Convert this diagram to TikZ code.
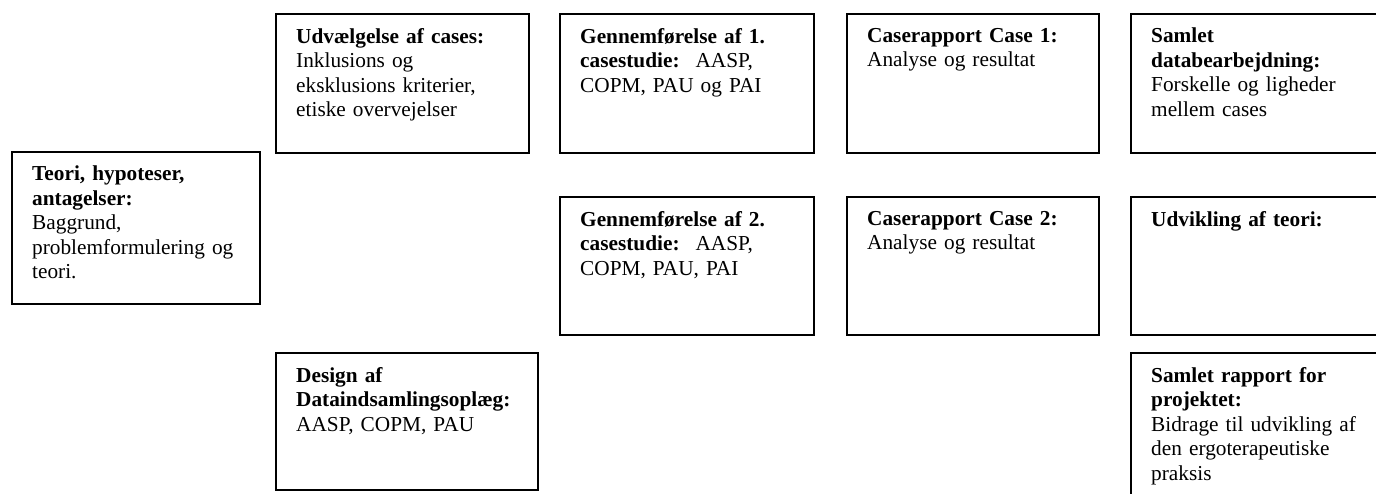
\documentclass[tikz,border=0pt]{standalone}
\usepackage{fontspec}
\setmainfont{Liberation Serif}
\usepackage{tikz}

\tikzset{
  stage/.style={draw=black, line width=1.8pt, rectangle, anchor=north west, inner sep=0pt},
  stagetext/.style={anchor=north west, inner sep=0pt, text width=250pt, align=left,
    font=\fontsize{21.3}{24.5}\selectfont}
}
% box with its text set in the upper left corner
\newcommand{\stagebox}[6]{
  \node[stage, minimum width=#4pt, minimum height=#5pt] (#1) at (#2,#3) {};
  \node[stagetext] (#1-text) at ([xshift=21pt,yshift=-15pt]#1.north west) {#6};}

\begin{document}
\begin{tikzpicture}[x=1pt, y=-1pt]
        \useasboundingbox (0,0) rectangle (1376,493);

        % left
        \stagebox{teori}{11}{151}{248}{152}{\textbf{Teori, hypoteser,}\\ \textbf{antagelser:}\\ Baggrund,\\ problemformulering og\\ teori.}

        % row 1
        \stagebox{udvalg}{275}{13}{253}{139}{\textbf{Udvælgelse af cases:}\\ Inklusions og\\ eksklusions kriterier,\\ etiske overvejelser}
        \stagebox{case1}{559}{13}{254}{139}{\textbf{Gennemførelse af 1.}\\ \textbf{casestudie:}\hspace{16pt}AASP,\\ COPM, PAU og PAI}
        \stagebox{rapport1}{846}{13}{252}{139}{\textbf{Caserapport Case 1:}\\ Analyse og resultat}
        \stagebox{samlet}{1130}{13}{300}{139}{\textbf{Samlet}\\ \textbf{databearbejdning:}\\ Forskelle og ligheder\\ mellem cases}

        % row 2
        \stagebox{case2}{559}{196}{254}{138}{\textbf{Gennemførelse af 2.}\\ \textbf{casestudie:}\hspace{16pt}AASP,\\ COPM, PAU, PAI}
        \stagebox{rapport2}{846}{196}{252}{138}{\textbf{Caserapport Case 2:}\\ Analyse og resultat}
        \stagebox{udvikling}{1130}{196}{300}{138}{\textbf{Udvikling af teori:}}

        % row 3
        \stagebox{design}{275}{352}{262}{137}{\textbf{Design af}\\ \textbf{Dataindsamlingsoplæg:}\\ AASP, COPM, PAU}
        \stagebox{projekt}{1130}{352}{300}{200}{\textbf{Samlet rapport for}\\ \textbf{projektet:}\\ Bidrage til udvikling af\\ den ergoterapeutiske\\ praksis}
\end{tikzpicture}
\end{document}
